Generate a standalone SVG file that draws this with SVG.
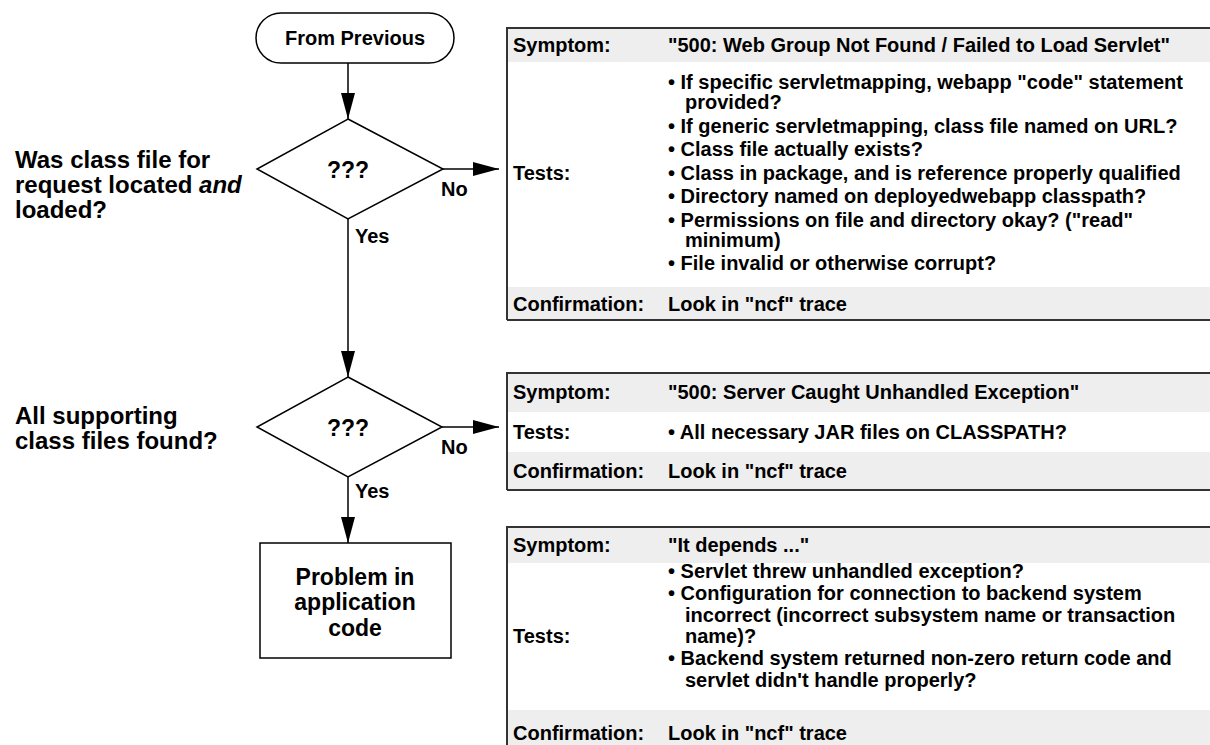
<svg xmlns="http://www.w3.org/2000/svg" width="1210" height="745" viewBox="0 0 1210 745">
  <defs>
    <style>
      text { font-family: "Liberation Sans", Arial, sans-serif; font-weight: bold; fill: #000; }
      .t20 { font-size: 20px; }
      .t23 { font-size: 23px; }
      .t24 { font-size: 24px; }
      .mid { text-anchor: middle; }
      .shape { fill: #fff; stroke: #000; stroke-width: 1.5; }
      .wire { fill: none; stroke: #000; stroke-width: 1.5; }
      .hdr { fill: #eeeeee; }
      .edge { stroke: #333; stroke-width: 2; fill: none; }
    </style>
    <marker id="arrow" viewBox="0 0 26 14" refX="26" refY="7" markerWidth="26" markerHeight="14" markerUnits="userSpaceOnUse" orient="auto">
      <path d="M0,0 L26,7 L0,14 Z" fill="#000"/>
    </marker>
  </defs>

  <!-- flow nodes -->
  <g id="start">
    <rect class="shape" x="256" y="13" width="198" height="50" rx="25" ry="25"/>
    <text class="t20 mid" x="355" y="45">From Previous</text>
  </g>

  <g id="decision1">
    <polygon class="shape" points="348,119 443,169 348,219 257,169"/>
    <text class="t23 mid" x="348" y="178">???</text>
  </g>

  <g id="decision2">
    <polygon class="shape" points="348,377 442,427 348,477 257,427"/>
    <text class="t23 mid" x="348" y="436">???</text>
  </g>

  <g id="app-code">
    <rect class="shape" x="260" y="543" width="191" height="115"/>
    <text class="t23 mid" x="355" y="585">Problem in</text>
    <text class="t23 mid" x="355" y="610">application</text>
    <text class="t23 mid" x="355" y="636">code</text>
  </g>

  <!-- side questions -->
  <g id="question1">
    <text class="t24" x="15" y="168">Was class file for</text>
    <text class="t24" x="15" y="193">request located <tspan font-style="italic">and</tspan></text>
    <text class="t24" x="15" y="218">loaded?</text>
  </g>
  <g id="question2">
    <text class="t24" x="15" y="424">All supporting</text>
    <text class="t24" x="15" y="449">class files found?</text>
  </g>

  <!-- connectors -->
  <g id="connectors">
    <line class="wire" x1="348" y1="63" x2="348" y2="119" marker-end="url(#arrow)"/>
    <line class="wire" x1="443" y1="169" x2="499" y2="169" marker-end="url(#arrow)"/>
    <line class="wire" x1="348" y1="219" x2="348" y2="377" marker-end="url(#arrow)"/>
    <line class="wire" x1="442" y1="427" x2="499" y2="427" marker-end="url(#arrow)"/>
    <line class="wire" x1="348" y1="477" x2="348" y2="543" marker-end="url(#arrow)"/>
    <text class="t20" x="441" y="196">No</text>
    <text class="t20" x="355" y="243">Yes</text>
    <text class="t20" x="441" y="454">No</text>
    <text class="t20" x="355" y="498">Yes</text>
  </g>

  <!-- table: web group not found -->
  <g id="table1">
    <rect class="hdr" x="507" y="28" width="703" height="34"/>
    <rect class="hdr" x="507" y="287" width="703" height="33"/>
    <path class="edge" d="M507,320 V28 H1210 M507,320 H1210"/>
    <text class="t20" x="513" y="52">Symptom:</text>
    <text class="t20" x="668" y="52">"500: Web Group Not Found / Failed to Load Servlet"</text>
    <text class="t20" x="513" y="179.5">Tests:</text>
    <text class="t20" x="668" y="89">• If specific servletmapping, webapp "code" statement</text>
    <text class="t20" x="685" y="109">provided?</text>
    <text class="t20" x="668" y="132.5">• If generic servletmapping, class file named on URL?</text>
    <text class="t20" x="668" y="156">• Class file actually exists?</text>
    <text class="t20" x="668" y="179.5">• Class in package, and is reference properly qualified</text>
    <text class="t20" x="668" y="203">• Directory named on deployedwebapp classpath?</text>
    <text class="t20" x="668" y="226.5">• Permissions on file and directory okay? ("read"</text>
    <text class="t20" x="685" y="246.5">minimum)</text>
    <text class="t20" x="668" y="270">• File invalid or otherwise corrupt?</text>
    <text class="t20" x="513" y="311">Confirmation:</text>
    <text class="t20" x="668" y="311">Look in "ncf" trace</text>
  </g>

  <!-- table: unhandled exception -->
  <g id="table2">
    <rect class="hdr" x="507" y="373" width="703" height="39"/>
    <rect class="hdr" x="507" y="452" width="703" height="38"/>
    <path class="edge" d="M507,490 V373 H1210 M507,490 H1210"/>
    <text class="t20" x="513" y="399">Symptom:</text>
    <text class="t20" x="668" y="399">"500: Server Caught Unhandled Exception"</text>
    <text class="t20" x="513" y="439">Tests:</text>
    <text class="t20" x="668" y="439">• All necessary JAR files on CLASSPATH?</text>
    <text class="t20" x="513" y="478">Confirmation:</text>
    <text class="t20" x="668" y="478">Look in "ncf" trace</text>
  </g>

  <!-- table: it depends -->
  <g id="table3">
    <rect class="hdr" x="507" y="527" width="703" height="36"/>
    <rect class="hdr" x="507" y="710" width="703" height="35"/>
    <path class="edge" d="M507,745 V527 H1210"/>
    <text class="t20" x="513" y="552">Symptom:</text>
    <text class="t20" x="668" y="552">"It depends ..."</text>
    <text class="t20" x="513" y="643">Tests:</text>
    <text class="t20" x="668" y="578">• Servlet threw unhandled exception?</text>
    <text class="t20" x="668" y="600">• Configuration for connection to backend system</text>
    <text class="t20" x="685" y="621.5">incorrect (incorrect subsystem name or transaction</text>
    <text class="t20" x="685" y="643">name)?</text>
    <text class="t20" x="668" y="665">• Backend system returned non-zero return code and</text>
    <text class="t20" x="685" y="687">servlet didn't handle properly?</text>
    <text class="t20" x="513" y="740">Confirmation:</text>
    <text class="t20" x="668" y="740">Look in "ncf" trace</text>
  </g>
</svg>
